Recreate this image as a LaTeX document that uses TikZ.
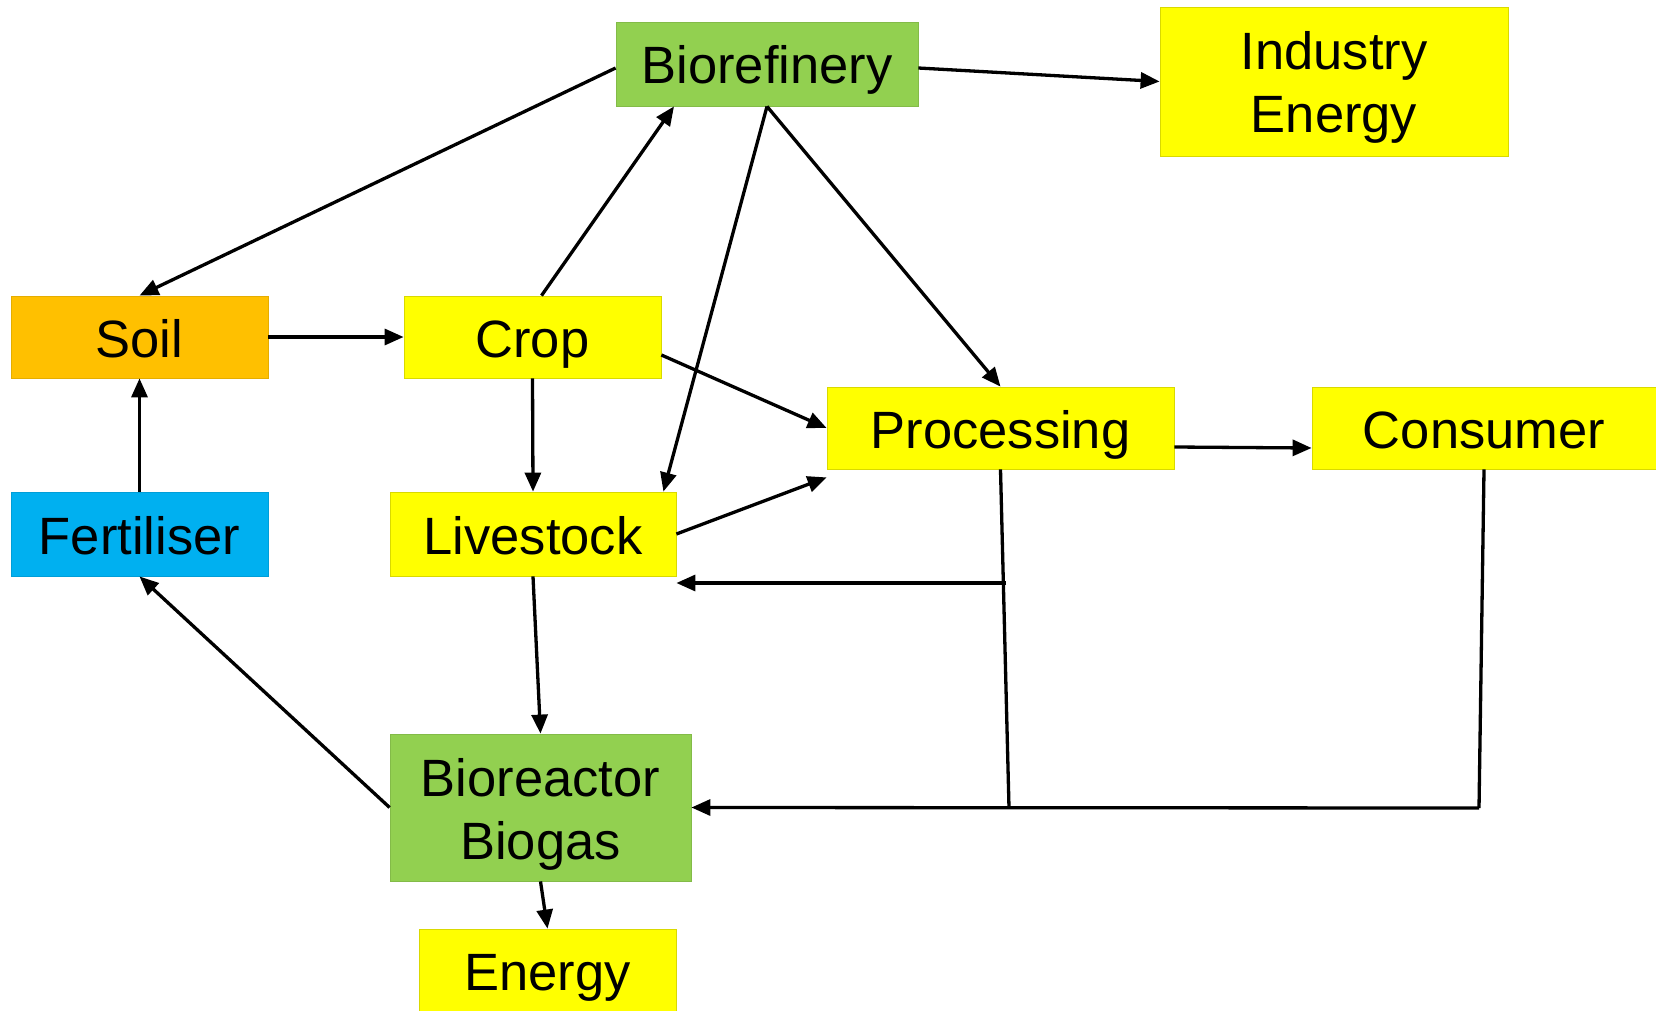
\documentclass[tikz,border=0pt]{standalone}
\usepackage{fontspec}
\setmainfont{Liberation Sans}
\usetikzlibrary{arrows.meta}

\definecolor{leafgreen}{HTML}{92D050}
\definecolor{sunyellow}{HTML}{FFFF00}
\definecolor{soilorange}{HTML}{FFC000}
\definecolor{fertblue}{HTML}{00B0F0}

\begin{document}
\begin{tikzpicture}[x=1pt,y=-1pt]

% Box style
\tikzset{
    box/.style={rectangle, inner sep=0pt, line width=0.8pt,
        text height=40pt, text depth=0pt,
        font=\fontsize{52.5}{63}\selectfont},
    yellowbox/.style={box, fill=sunyellow, draw=sunyellow!85!black},
    greenbox/.style={box, fill=leafgreen, draw=leafgreen!90!black},
    twolines/.style={align=center, text height=103pt},
    flow/.style={line width=3.3pt, -{Triangle[length=19pt,width=16pt]}},
    wire/.style={line width=3.3pt}
}

\useasboundingbox (0,0) rectangle (1656,1011);

% Boxes
\node[greenbox, minimum width=302pt, minimum height=84pt] (bioref) at (767,64) {Biorefinery};
\node[yellowbox, twolines, minimum width=348pt, minimum height=149pt] (ind) at (1334,81.5) {Industry\\Energy};
\node[box, fill=soilorange, draw=soilorange!90!black, minimum width=257pt, minimum height=82pt] (soil) at (139.5,337) {Soil};
\node[yellowbox, minimum width=257pt, minimum height=82pt] (crop) at (532.5,337) {Crop};
\node[yellowbox, minimum width=347pt, minimum height=82pt] (proc) at (1000.5,428) {Processing};
\node[yellowbox, minimum width=344pt, minimum height=82pt] (cons) at (1484,428) {Consumer};
\node[box, fill=fertblue, draw=fertblue!90!black, minimum width=257pt, minimum height=84pt] (fert) at (139.5,534) {Fertiliser};
\node[yellowbox, minimum width=286pt, minimum height=84pt] (live) at (533,534) {Livestock};
\node[greenbox, twolines, minimum width=301pt, minimum height=147pt] (bioreact) at (540.5,807.5) {Bioreactor\\Biogas};
\node[yellowbox, minimum width=257pt, minimum height=82pt] (energy) at (547.5,970) {Energy};

% Junctions of the return lines
\coordinate (pjoin) at (1009,808);
\coordinate (pbranch) at (1006,583);
\coordinate (cjoin) at (1479,808);

% Connections
\draw[flow] ([yshift=-4pt]bioref.west) -- (soil.north);
\draw[flow] ([yshift=-4pt]bioref.east) -- (ind.west);
\draw[flow] (bioref.south) -- ([xshift=-13pt]live.north east);
\draw[flow] (bioref.south) -- (proc.north);
\draw[flow] (soil.east) -- (crop.west);
\draw[flow] ([xshift=9pt]crop.north) -- ([xshift=-93pt]bioref.south);
\draw[flow] ([yshift=-18pt]crop.east) -- (proc.west);
\draw[flow] (crop.south) -- (live.north);
\draw[flow] (fert.north) -- (soil.south);
\draw[flow] (live.east) -- ([yshift=-8pt]proc.south west);
\draw[flow] ([yshift=-19pt]proc.east) -- ([yshift=-20pt]cons.west);
\draw[flow] (live.south) -- (bioreact.north);
\draw[flow] (bioreact.south) -- (energy.north);
\draw[flow] (bioreact.west) -- (fert.south);

\draw[wire] (proc.south) -- (pjoin);
\draw[flow] (pbranch) -- (pbranch -| live.east);
\draw[wire] (cons.south) -- (cjoin);
\draw[flow] (cjoin) -- (bioreact.east);

\end{tikzpicture}
\end{document}
